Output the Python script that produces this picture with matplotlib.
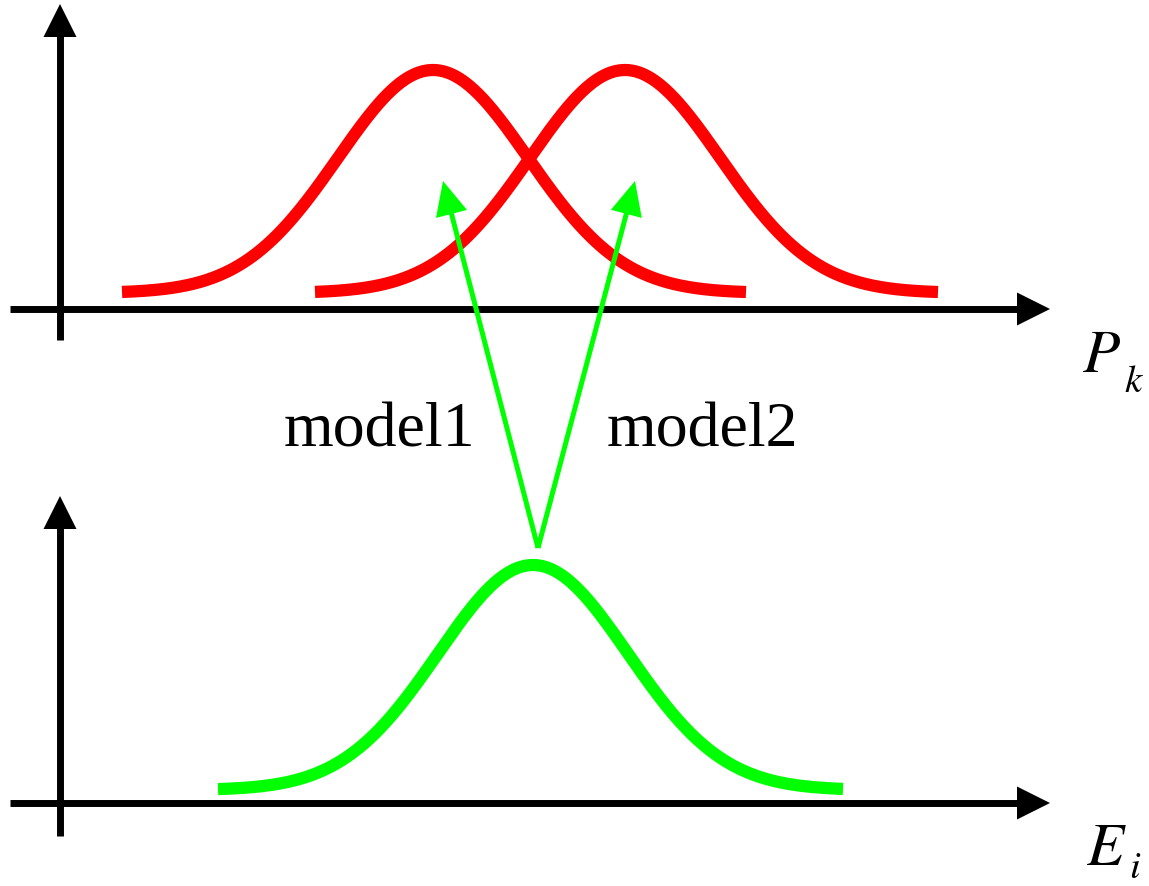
import numpy as np
import matplotlib
matplotlib.use("Agg")
import matplotlib.pyplot as plt
from matplotlib.patches import Polygon

plt.rcParams['mathtext.fontset'] = 'stix'

# Curve parameters (pixel coordinates)
red_centers = [433, 625]
red_ranges = [(122, 746), (315, 938)]
red_base = 293
red_peak = 70
green_center = 533
green_range = (218, 843)
green_base = 790
green_peak = 565
sigma = 95

labels = ["model1", "model2"]
label_pos = [(379, 446), (702, 446)]
axis_main = [r"$P$", r"$E$"]
axis_sub = [r"$k$", r"$i$"]

fig = plt.figure(figsize=(11.49, 8.86), dpi=100)
ax = fig.add_axes([0, 0, 1, 1])
ax.set_xlim(0, 1149)
ax.set_ylim(886, 0)
ax.axis('off')

def head(tip, direction, length=33, width=33, color='black'):
    d = np.array(direction, float)
    d /= np.linalg.norm(d)
    n = np.array([-d[1], d[0]])
    t = np.array(tip, float)
    b = t - d * length
    pts = [t, b + n * width / 2, b - n * width / 2]
    ax.add_patch(Polygon(pts, closed=True, color=color, lw=0, zorder=5))

def axis_arrow(x0, y0, x1, y1, color='black', lw=5.0, hl=33, hw=33):
    d = np.array([x1 - x0, y1 - y0], float)
    L = np.linalg.norm(d)
    u = d / L
    ex, ey = np.array([x1, y1]) - u * (hl * 0.8)
    ax.plot([x0, ex], [y0, ey], color=color, lw=lw, solid_capstyle='butt', zorder=4)
    head((x1, y1), u, hl, hw, color)

# axes
axis_arrow(60, 340, 60, 4)
axis_arrow(10, 309, 1050, 309)
axis_arrow(60, 836, 60, 496)
axis_arrow(10, 803, 1050, 803)

# red curves
for c, (a, b) in zip(red_centers, red_ranges):
    x = np.linspace(a, b, 400)
    y = red_base - (red_base - red_peak) * np.exp(-(x - c) ** 2 / (2 * sigma ** 2))
    ax.plot(x, y, color='#ff0000', lw=8.8, solid_capstyle='butt', zorder=3)

# green curve
x = np.linspace(*green_range, 400)
y = green_base - (green_base - green_peak) * np.exp(-(x - green_center) ** 2 / (2 * sigma ** 2))
ax.plot(x, y, color='#00ff00', lw=8.8, solid_capstyle='butt', zorder=3)

# green arrows
start = (538, 548)
for tip in [(443, 181), (635, 181)]:
    axis_arrow(start[0], start[1], tip[0], tip[1], color='#00ff00', lw=3.6, hl=34, hw=32)

for t, (px, py) in zip(labels, label_pos):
    ax.text(px, py, t, fontsize=46, family='Liberation Serif', ha='center', va='baseline')

ax.text(1082, 372, axis_main[0], fontsize=44, ha='left', va='baseline')
ax.text(1124, 392, axis_sub[0], fontsize=28, ha='left', va='baseline')
ax.text(1086, 865, axis_main[1], fontsize=44, ha='left', va='baseline')
ax.text(1129, 878, axis_sub[1], fontsize=28, ha='left', va='baseline')

fig.savefig('out.png', dpi=100)
